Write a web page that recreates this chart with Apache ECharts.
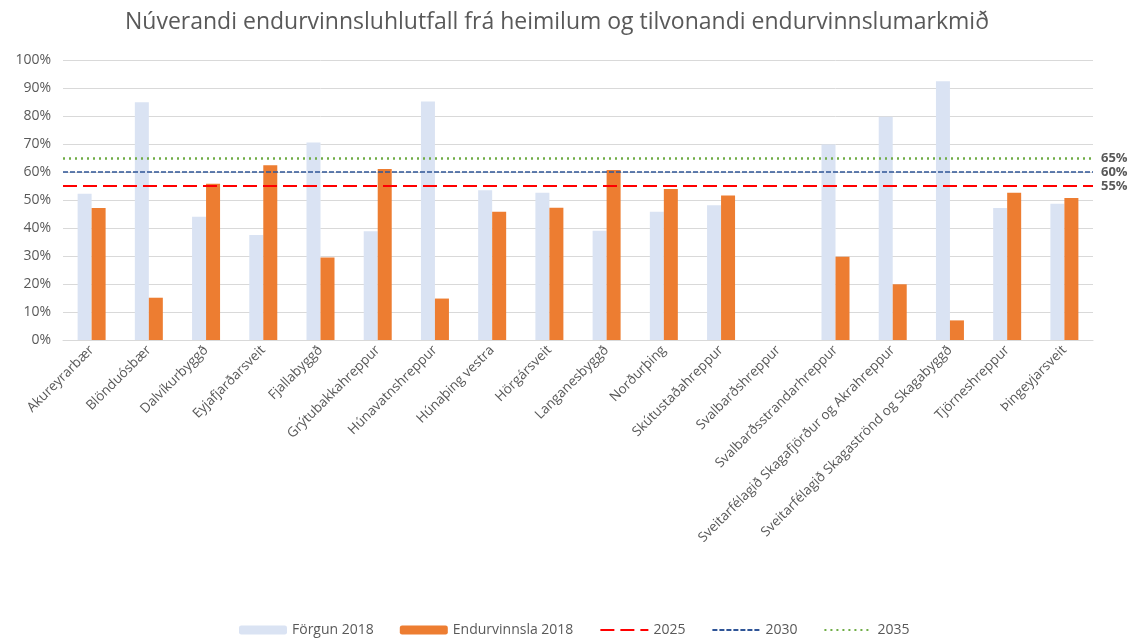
<!DOCTYPE html>
<html>
<head>
<meta charset="utf-8">
<script src="https://cdn.jsdelivr.net/npm/echarts@6/dist/echarts.min.js"></script>
<style>
  html, body { margin: 0; padding: 0; background: #fff; }
  #chart { width: 1136px; height: 639px; }
</style>
</head>
<body>
<div id="chart"></div>
<script>
// sveitarfélög
var categories = [
  "Akureyrarbær", "Blönduósbær", "Dalvíkurbyggð", "Eyjafjarðarsveit", "Fjallabyggð",
  "Grýtubakkahreppur", "Húnavatnshreppur", "Húnaþing vestra", "Hörgársveit", "Langanesbyggð",
  "Norðurþing", "Skútustaðahreppur", "Svalbarðshreppur", "Svalbarðsstrandarhreppur",
  "Sveitarfélagið Skagafjörður og Akrahreppur", "Sveitarfélagið Skagaströnd og Skagabyggð",
  "Tjörneshreppur", "Þingeyjarsveit"
];
// hlutfall í %
var forgun = [52.2, 84.9, 44.0, 37.5, 70.5, 38.8, 85.2, 53.5, 52.6, 39.0, 45.8, 48.1, null, 69.8, 79.7, 92.4, 47.1, 48.7];
var endurvinnsla = [47.1, 15.1, 55.8, 62.4, 29.5, 61.1, 14.8, 45.8, 47.2, 60.7, 53.9, 51.6, null, 29.7, 19.9, 7.0, 52.6, 50.7];
// markmið
var targetYears = ["2025", "2030", "2035"];
var targetValues = [55, 60, 65];
var yTicks = [0, 10, 20, 30, 40, 50, 60, 70, 80, 90, 100];

var font = "Open Sans";
var textColor = "#595959";

var lineStyles = [
  { color: "#ff0000", width: 2, type: [14, 6] },
  { color: "#2f5597", width: 1.5, type: [5, 2] },
  { color: "#70ad47", width: 2.5, type: [2, 4] }
];

var targetSeries = targetYears.map(function (year, i) {
  return {
    name: year,
    type: "line",
    data: [],
    symbol: "none",
    itemStyle: { color: lineStyles[i].color },
    lineStyle: lineStyles[i],
    markLine: {
      silent: true,
      symbol: "none",
      lineStyle: lineStyles[i],
      label: {
        position: "end",
        formatter: targetValues[i] + "%",
        color: textColor,
        fontFamily: font,
        fontWeight: "bold",
        fontSize: 13,
        distance: 8
      },
      data: [{ yAxis: targetValues[i] }]
    }
  };
});

var legendData = ["Förgun 2018", "Endurvinnsla 2018"].concat(targetYears.map(function (y) {
  return { name: y, itemStyle: { opacity: 0 } };
}));

var chart = echarts.init(document.getElementById("chart"));
chart.setOption({
  animation: false,
  backgroundColor: "#fff",
  textStyle: { fontFamily: font },
  title: {
    text: "Núverandi endurvinnsluhlutfall frá heimilum og tilvonandi endurvinnslumarkmið",
    left: 120,
    top: 6,
    textStyle: { color: textColor, fontSize: 23, fontWeight: "normal", fontFamily: font }
  },
  legend: {
    bottom: -3,
    left: 234,
    itemWidth: 48,
    itemHeight: 9,
    itemGap: 26,
    textStyle: { color: textColor, fontSize: 14, fontFamily: font },
    data: legendData
  },
  grid: { left: 63, right: 43, top: 60, bottom: 299, containLabel: false },
  xAxis: {
    type: "category",
    data: categories,
    axisTick: { show: false },
    axisLine: { lineStyle: { color: "#d9d9d9" } },
    axisLabel: {
      interval: 0,
      rotate: 45,
      color: textColor,
      fontSize: 13.5,
      fontFamily: font,
      margin: 8
    }
  },
  yAxis: {
    type: "value",
    min: 0,
    max: 100,
    interval: 10,
    axisLine: { show: false },
    axisTick: { show: false },
    splitLine: { lineStyle: { color: "#d9d9d9", width: 1 } },
    axisLabel: {
      formatter: function (v) { return yTicks.indexOf(v) >= 0 ? v + "%" : ""; },
      color: textColor,
      fontSize: 14,
      fontFamily: font,
      margin: 12
    }
  },
  series: [
    {
      name: "Förgun 2018",
      type: "bar",
      data: forgun,
      barWidth: 14,
      barGap: "0%",
      itemStyle: { color: "#dae3f3" }
    },
    {
      name: "Endurvinnsla 2018",
      type: "bar",
      data: endurvinnsla,
      barWidth: 14,
      itemStyle: { color: "#ed7d31" }
    }
  ].concat(targetSeries)
});
</script>
</body>
</html>
